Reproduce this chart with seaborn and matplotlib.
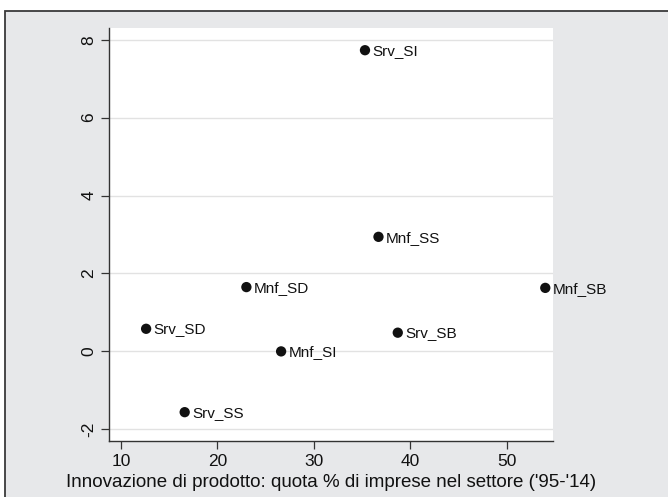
import matplotlib
matplotlib.use("Agg")
import matplotlib.pyplot as plt
import seaborn as sns
import pandas as pd
from matplotlib.patches import Rectangle

labels = ["Srv_SI", "Mnf_SS", "Mnf_SD", "Mnf_SB", "Srv_SD", "Srv_SB", "Mnf_SI", "Srv_SS"]
x_vals = [35.3, 36.7, 23.0, 54.0, 12.6, 38.7, 26.6, 16.6]
y_vals = [7.73, 2.94, 1.65, 1.63, 0.58, 0.48, 0.0, -1.56]
x_ticks = [10, 20, 30, 40, 50]
y_ticks = [-2, 0, 2, 4, 6, 8]
x_label = "Innovazione di prodotto: quota % di imprese nel settore ('95-'14)"

df = pd.DataFrame({"label": labels, "x": x_vals, "y": y_vals})

sns.set_theme(style="white")
plt.rcParams["font.family"] = ["Liberation Sans", "DejaVu Sans"]

W, H = 668, 497
fig = plt.figure(figsize=(W / 100, H / 100), dpi=100, facecolor="white")
bg = "#E7E8EA"
fig.patches.append(Rectangle((5 / W, -0.05), 1.2, (H - 11) / H + 0.05,
                             transform=fig.transFigure, facecolor=bg,
                             edgecolor="#3a3a3a", linewidth=1.3, zorder=-10))

ax = fig.add_axes([109 / W, 1 - 441 / H, (553 - 109) / W, (441 - 28) / H])
ax.set_facecolor("white")

sns.scatterplot(data=df, x="x", y="y", ax=ax, color="#111111", s=55,
                edgecolor="none", zorder=3, legend=False)
for lab, xv, yv in zip(labels, x_vals, y_vals):
    ax.annotate(lab, (xv, yv), xytext=(5.5, -0.5), textcoords="offset points",
                ha="left", va="center", fontsize=11, color="#111111")

ax.set_xlim(8.75, 54.8)
ax.set_ylim(-2.3, 8.3)
ax.set_xticks(x_ticks)
ax.set_yticks(y_ticks)
ax.set_yticklabels([str(t) for t in y_ticks], rotation=90, va="center")
ax.grid(axis="y", color="#E2E2E2", linewidth=1.0)
ax.grid(axis="x", visible=False)
ax.set_axisbelow(True)

for side in ["top", "right"]:
    ax.spines[side].set_visible(False)
for side in ["left", "bottom"]:
    ax.spines[side].set_color("#333333")
    ax.spines[side].set_linewidth(1.0)

ax.tick_params(axis="both", which="major", direction="out", length=6,
               width=0.9, color="#333333", labelsize=12.5, labelcolor="#111111",
               left=True, bottom=True, pad=3)
ax.set_xlabel(x_label, fontsize=13.5, color="#111111", labelpad=4)
ax.set_ylabel("")

fig.savefig("out.png", dpi=100, facecolor=fig.get_facecolor())
